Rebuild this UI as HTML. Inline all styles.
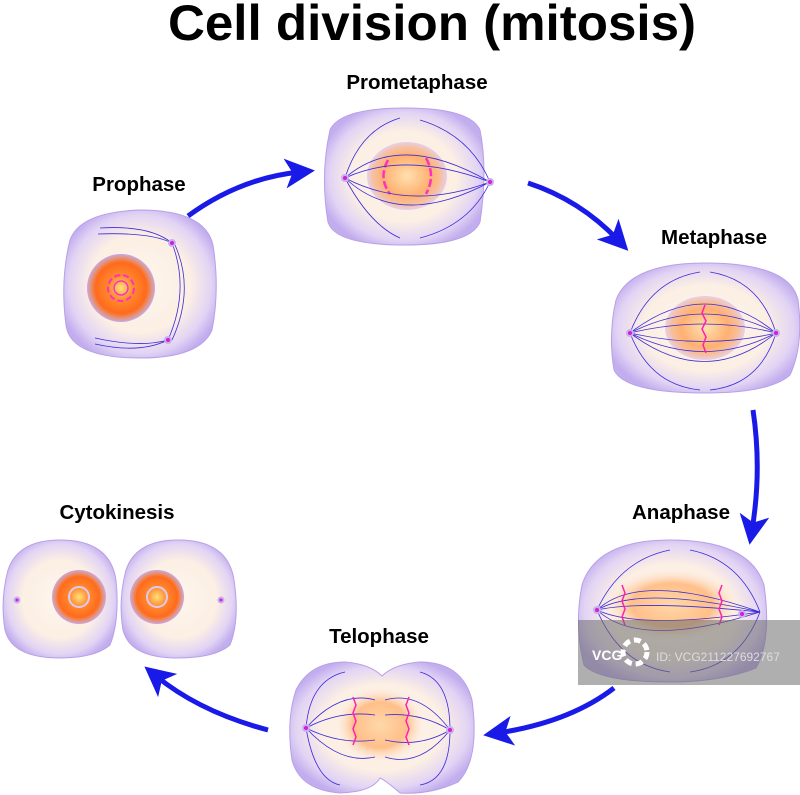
<!DOCTYPE html>
<html><head><meta charset="utf-8"><style>
html,body{margin:0;padding:0;background:#fff;}
svg{display:block;}
text{font-family:"Liberation Sans","DejaVu Sans",sans-serif;font-weight:bold;fill:#000;}
</style></head><body>
<svg width="800" height="795" viewBox="0 0 800 795" xmlns="http://www.w3.org/2000/svg">
<defs>
<radialGradient id="cell" cx="0.5" cy="0.5" r="0.55">
<stop offset="0" stop-color="#fef6ec"/><stop offset="0.6" stop-color="#fcefe4"/><stop offset="0.85" stop-color="#e2d4f4"/><stop offset="1" stop-color="#c2aeee"/>
</radialGradient>
<radialGradient id="nuc" cx="0.5" cy="0.5" r="0.5">
<stop offset="0" stop-color="#ffe07a"/><stop offset="0.35" stop-color="#ff8c30"/><stop offset="0.75" stop-color="#ff6a1c"/><stop offset="0.88" stop-color="#e8906e"/><stop offset="1" stop-color="#c8a8e8"/>
</radialGradient>
<radialGradient id="nuc2" cx="0.5" cy="0.5" r="0.5">
<stop offset="0" stop-color="#ffe0b0"/><stop offset="0.6" stop-color="#ffb070"/><stop offset="0.85" stop-color="#f6c0a0"/><stop offset="1" stop-color="#e6d0e8"/>
</radialGradient>
<radialGradient id="mid" cx="0.5" cy="0.5" r="0.5">
<stop offset="0" stop-color="#ffd8a8"/><stop offset="0.6" stop-color="#ffbf8a"/><stop offset="1" stop-color="#fde8d8" stop-opacity="0"/>
</radialGradient>
<marker id="ah" markerWidth="6" markerHeight="6" refX="3" refY="3" orient="auto" markerUnits="strokeWidth">
<path d="M0,0 L6,3 L0,6 L1.5,3 Z" fill="#1a1ae8"/>
</marker>
</defs>

<text x="432" y="40" font-size="50" text-anchor="middle" textLength="528" lengthAdjust="spacingAndGlyphs">Cell division (mitosis)</text>

<text x="139" y="191" font-size="20.5" text-anchor="middle">Prophase</text>
<text x="417" y="89" font-size="20.5" text-anchor="middle">Prometaphase</text>
<text x="714" y="244" font-size="20.5" text-anchor="middle">Metaphase</text>
<text x="681" y="519" font-size="20.5" text-anchor="middle">Anaphase</text>
<text x="379" y="643" font-size="20.5" text-anchor="middle">Telophase</text>
<text x="117" y="519" font-size="20.5" text-anchor="middle">Cytokinesis</text>

<g fill="none" stroke="#1a1ae8" stroke-width="5">
<path d="M188,216 Q240,178 300,172" marker-end="url(#ah)"/>
<path d="M528,183 Q580,200 618,240" marker-end="url(#ah)"/>
<path d="M753,410 Q762,470 752,530" marker-end="url(#ah)"/>
<path d="M614,688 Q570,722 498,733" marker-end="url(#ah)"/>
<path d="M268,730 Q200,712 156,676" marker-end="url(#ah)"/>
</g>

<g stroke="#b8a0e8" stroke-width="1">
<path d="M70,240 Q80,212 140,210 Q205,210 213,245 Q220,290 212,330 Q200,358 140,358 Q70,358 66,325 Q60,280 70,240Z" fill="url(#cell)"/>
<path d="M330,130 Q340,108 405,108 Q470,108 480,130 Q488,170 480,222 Q470,245 405,245 Q335,245 328,222 Q320,175 330,130Z" fill="url(#cell)"/>
<path d="M616,300 Q630,263 705,263 Q790,263 798,300 Q804,345 790,375 Q770,393 705,393 Q625,393 614,370 Q608,335 616,300Z" fill="url(#cell)"/>
<path d="M582,585 Q596,540 670,540 Q750,540 764,585 Q772,640 756,668 Q720,682 670,682 Q600,682 584,665 Q574,625 582,585Z" fill="url(#cell)"/>
<path d="M296,690 Q310,662 345,662 Q370,664 382,676 Q394,664 420,662 Q462,662 472,700 Q480,760 458,782 Q430,795 400,793 Q385,780 380,778 Q372,792 340,793 Q300,790 292,760 Q286,720 296,690Z" fill="url(#cell)"/>
<path d="M8,570 Q18,540 60,540 Q110,540 116,580 Q120,620 110,645 Q95,658 60,658 Q12,658 5,630 Q0,600 8,570Z" fill="url(#cell)"/>
<path d="M126,570 Q136,540 178,540 Q228,540 234,580 Q240,620 230,645 Q215,658 178,658 Q130,658 123,630 Q118,600 126,570Z" fill="url(#cell)"/>
</g>

<circle cx="121" cy="288" r="34" fill="url(#nuc)"/>
<circle cx="121" cy="288" r="13" fill="none" stroke="#ff30c0" stroke-width="2" stroke-dasharray="6 3"/>
<circle cx="121" cy="288" r="7" fill="none" stroke="#ff30c0" stroke-width="1.5"/>
<ellipse cx="407" cy="176" rx="40" ry="34" fill="url(#nuc2)"/>
<path d="M388,160 Q378,178 390,194 M426,158 Q436,176 426,194" fill="none" stroke="#ff30c0" stroke-width="2.5" stroke-dasharray="8 3"/>
<ellipse cx="705" cy="328" rx="40" ry="32" fill="url(#nuc2)"/>
<ellipse cx="672" cy="605" rx="68" ry="36" fill="url(#mid)"/>
<ellipse cx="380" cy="725" rx="45" ry="38" fill="url(#mid)"/>
<circle cx="79" cy="597" r="27" fill="url(#nuc)"/>
<circle cx="79" cy="597" r="10" fill="none" stroke="#e0c8f0" stroke-width="2"/>
<circle cx="157" cy="597" r="27" fill="url(#nuc)"/>
<circle cx="157" cy="597" r="10" fill="none" stroke="#e0c8f0" stroke-width="2"/>

<g fill="none" stroke="#3a2ad8" stroke-width="0.8">
<path d="M100,228 Q150,225 172,243 M98,234 Q150,232 172,243 M172,243 Q190,290 168,340 M175,245 Q195,290 172,340 M95,338 Q140,348 168,340 M95,344 Q140,354 168,340"/>
<path d="M345,178 Q400,130 490,182 M345,178 Q405,150 490,182 M345,178 Q400,230 490,182 M345,178 Q410,212 490,182 M345,178 Q360,130 400,118 M490,182 Q470,135 420,120 M345,178 Q370,225 400,238 M490,182 Q470,225 420,238"/>
<path d="M630,333 Q705,275 776,333 M630,333 Q705,295 776,333 M630,333 Q705,315 776,333 M630,333 Q705,350 776,333 M630,333 Q705,370 776,333 M630,333 Q705,390 776,333 M630,333 Q650,280 700,272 M776,333 Q760,280 710,272 M630,333 Q650,385 700,390 M776,333 Q760,385 710,390"/>
<path d="M597,610 Q640,570 760,612 M597,610 Q640,585 760,612 M597,610 Q640,600 760,612 M597,610 Q640,630 760,612 M597,610 Q640,650 760,612 M597,610 Q620,560 670,550 M760,612 Q740,560 690,550 M597,610 Q620,665 670,672 M760,612 Q740,665 690,672"/>
<path d="M306,728 Q340,690 375,700 M306,728 Q340,710 375,715 M306,728 Q340,745 375,740 M306,728 Q340,765 375,757 M450,730 Q420,690 385,700 M450,730 Q420,712 385,715 M450,730 Q420,748 385,740 M450,730 Q420,768 385,757 M306,728 Q310,680 345,672 M450,730 Q450,680 420,672 M306,728 Q315,780 340,785 M450,730 Q450,780 420,785"/>
</g>
<g fill="none" stroke="#ff20b0" stroke-width="1.5">
<path d="M705,305 l-3,8 l4,8 l-4,8 l4,8 l-3,8 l3,8"/>
<path d="M622,585 l3,8 l-3,8 l3,8 l-3,8 l3,8 M722,585 l-3,8 l3,8 l-3,8 l3,8 l-3,8"/>
<path d="M353,697 l3,8 l-3,8 l3,8 l-3,8 l3,8 l-3,8 M409,697 l-3,8 l3,8 l-3,8 l3,8 l-3,8 l3,8"/>
</g>
<g fill="#d020d0" stroke="#c8b0f0" stroke-width="2">
<circle cx="172" cy="243" r="3"/><circle cx="168" cy="340" r="3"/>
<circle cx="345" cy="178" r="3"/><circle cx="490" cy="182" r="3"/>
<circle cx="630" cy="333" r="3"/><circle cx="776" cy="333" r="3"/>
<circle cx="597" cy="610" r="3"/><circle cx="742" cy="614" r="3"/>
<circle cx="306" cy="728" r="3"/><circle cx="450" cy="730" r="3"/>
<circle cx="17" cy="600" r="2.5"/><circle cx="221" cy="600" r="2.5"/>
</g>

<rect x="578" y="620" width="222" height="65" fill="#6e6e6e" fill-opacity="0.55"/>
<text x="592" y="660" font-size="14" style="fill:#fff">VCG</text>
<circle cx="635" cy="652" r="12" fill="none" stroke="#fff" stroke-width="5" stroke-dasharray="7 4"/>
<text x="656" y="661" font-size="12" style="fill:#ddd;font-weight:normal">ID: VCG211227692767</text>
</svg>
</body></html>
